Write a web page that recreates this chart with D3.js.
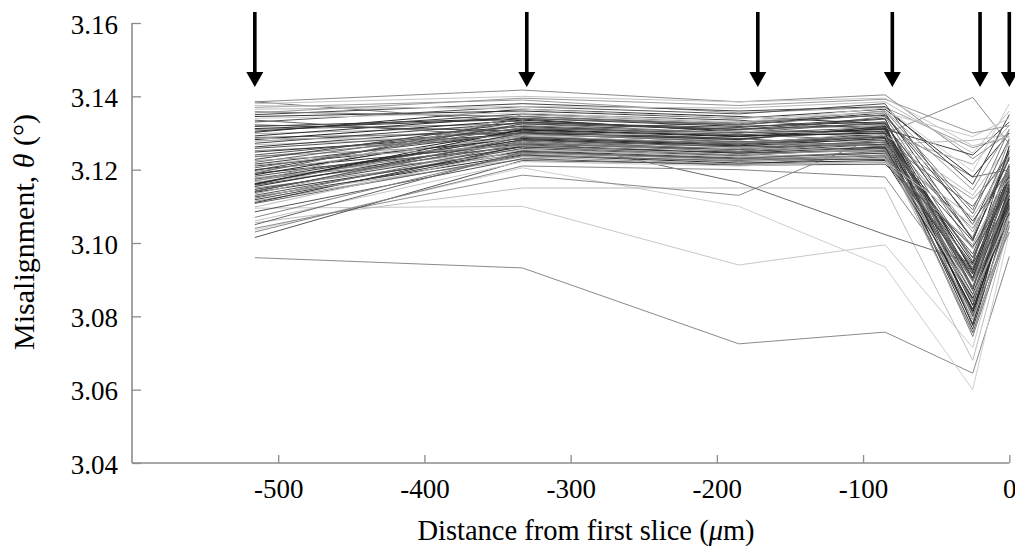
<!DOCTYPE html>
<html>
<head>
<meta charset="utf-8">
<script src="https://cdn.jsdelivr.net/npm/d3@7"></script>
<style>
  html, body { margin: 0; padding: 0; background: #fff; }
  svg { display: block; }
  text { font-family: "Liberation Serif", "Times New Roman", serif; fill: #000; }
</style>
</head>
<body>
<svg id="chart" width="1015" height="558"></svg>
<script>
// ---- data ----
const slicePositions = [-516, -333, -185, -85, -25, 0];
const arrowPositions = [-516, -330, -172, -80, -20, 0];
const xTicks = [-500, -400, -300, -200, -100, 0];
const yTicks = [3.04, 3.06, 3.08, 3.10, 3.12, 3.14, 3.16];

const seriesValues = [
  [3.0960, 3.0932, 3.0725, 3.0757, 3.0645, 3.0963],
  [3.1095, 3.1100, 3.0940, 3.0995, 3.0715, 3.1080],
  [3.1035, 3.1205, 3.1100, 3.0935, 3.0600, 3.1030],
  [3.1055, 3.1150, 3.1150, 3.1150, 3.0680, 3.1050],
  [3.1040, 3.1185, 3.1130, 3.1298, 3.1397, 3.1270],
  [3.1160, 3.1295, 3.1165, 3.1023, 3.0945, 3.1120],
  [3.1385, 3.1417, 3.1385, 3.1404, 3.1230, 3.1300],
  [3.1385, 3.1330, 3.1310, 3.1320, 3.1180, 3.1200],
  [3.1370, 3.1390, 3.1355, 3.1370, 3.1260, 3.1290],
  [3.1015, 3.1225, 3.1215, 3.1235, 3.0920, 3.1100],
  [3.1030, 3.1210, 3.1200, 3.1180, 3.0850, 3.1060],
  [3.1345, 3.1360, 3.1340, 3.1365, 3.1180, 3.1300],
  [3.1330, 3.1372, 3.1352, 3.1380, 3.1050, 3.1255],
  [3.1318, 3.1340, 3.1318, 3.1330, 3.0920, 3.1210],
  [3.1310, 3.1325, 3.1300, 3.1345, 3.0985, 3.1175],
  [3.1305, 3.1352, 3.1335, 3.1310, 3.1240, 3.1330],
  [3.1298, 3.1318, 3.1290, 3.1300, 3.0860, 3.1140],
  [3.1292, 3.1345, 3.1322, 3.1355, 3.1010, 3.1235],
  [3.1288, 3.1300, 3.1282, 3.1320, 3.0880, 3.1180],
  [3.1282, 3.1335, 3.1305, 3.1290, 3.0945, 3.1265],
  [3.1278, 3.1310, 3.1272, 3.1280, 3.1120, 3.1225],
  [3.1272, 3.1328, 3.1315, 3.1340, 3.0830, 3.1150],
  [3.1268, 3.1292, 3.1260, 3.1270, 3.1280, 3.1295],
  [3.1262, 3.1318, 3.1295, 3.1310, 3.0905, 3.1195],
  [3.1258, 3.1305, 3.1285, 3.1262, 3.0790, 3.1120],
  [3.1252, 3.1285, 3.1250, 3.1300, 3.1015, 3.1280],
  [3.1248, 3.1298, 3.1276, 3.1288, 3.0960, 3.1160],
  [3.1335, 3.1290, 3.1265, 3.1275, 3.1100, 3.1245],
  [3.1322, 3.1305, 3.1330, 3.1348, 3.1060, 3.1200],
  [3.1302, 3.1365, 3.1345, 3.1325, 3.0775, 3.1130],
  [3.1285, 3.1282, 3.1310, 3.1295, 3.1215, 3.1320],
  [3.1240, 3.1312, 3.1300, 3.1315, 3.0870, 3.1185],
  [3.1236, 3.1272, 3.1258, 3.1250, 3.0935, 3.1090],
  [3.1350, 3.1380, 3.1360, 3.1372, 3.1160, 3.1350],
  [3.1358, 3.1345, 3.1325, 3.1360, 3.1090, 3.1310],
  [3.1312, 3.1338, 3.1302, 3.1305, 3.0840, 3.1100],
  [3.1215, 3.1302, 3.1285, 3.1305, 3.0900, 3.1170],
  [3.1210, 3.1285, 3.1268, 3.1290, 3.0815, 3.1145],
  [3.1205, 3.1315, 3.1295, 3.1280, 3.0960, 3.1210],
  [3.1200, 3.1270, 3.1255, 3.1275, 3.0780, 3.1080],
  [3.1195, 3.1295, 3.1280, 3.1322, 3.1030, 3.1240],
  [3.1190, 3.1262, 3.1240, 3.1258, 3.0860, 3.1125],
  [3.1186, 3.1308, 3.1290, 3.1312, 3.0925, 3.1190],
  [3.1182, 3.1280, 3.1262, 3.1268, 3.0755, 3.1060],
  [3.1178, 3.1255, 3.1236, 3.1245, 3.1070, 3.1230],
  [3.1174, 3.1290, 3.1272, 3.1298, 3.0830, 3.1155],
  [3.1170, 3.1275, 3.1250, 3.1262, 3.0895, 3.1115],
  [3.1166, 3.1248, 3.1228, 3.1240, 3.0985, 3.1200],
  [3.1162, 3.1300, 3.1282, 3.1318, 3.0800, 3.1140],
  [3.1158, 3.1268, 3.1245, 3.1252, 3.0940, 3.1165],
  [3.1154, 3.1282, 3.1265, 3.1285, 3.0765, 3.1095],
  [3.1150, 3.1242, 3.1222, 3.1232, 3.0880, 3.1135],
  [3.1146, 3.1262, 3.1248, 3.1270, 3.1005, 3.1250],
  [3.1142, 3.1278, 3.1255, 3.1280, 3.0845, 3.1105],
  [3.1138, 3.1250, 3.1230, 3.1228, 3.0915, 3.1180],
  [3.1134, 3.1292, 3.1270, 3.1302, 3.0790, 3.1070],
  [3.1130, 3.1258, 3.1238, 3.1260, 3.0970, 3.1215],
  [3.1126, 3.1240, 3.1218, 3.1225, 3.0850, 3.1120],
  [3.1122, 3.1272, 3.1250, 3.1275, 3.0745, 3.1045],
  [3.1118, 3.1252, 3.1232, 3.1245, 3.0905, 3.1160],
  [3.1114, 3.1235, 3.1215, 3.1220, 3.0995, 3.1190],
  [3.1110, 3.1265, 3.1245, 3.1262, 3.0820, 3.1085],
  [3.1220, 3.1320, 3.1300, 3.1330, 3.0950, 3.1200],
  [3.1212, 3.1288, 3.1305, 3.1295, 3.1130, 3.1270],
  [3.1198, 3.1325, 3.1310, 3.1338, 3.0875, 3.1150],
  [3.1176, 3.1245, 3.1275, 3.1265, 3.1040, 3.1205],
  [3.1160, 3.1310, 3.1292, 3.1300, 3.0810, 3.1110],
  [3.1140, 3.1288, 3.1270, 3.1290, 3.0930, 3.1185],
  [3.1128, 3.1228, 3.1260, 3.1248, 3.0760, 3.1055],
  [3.1190, 3.1340, 3.1322, 3.1350, 3.1080, 3.1285],
  [3.1168, 3.1350, 3.1328, 3.1360, 3.1145, 3.1310],
  [3.1235, 3.1298, 3.1275, 3.1292, 3.0895, 3.1170],
  [3.1228, 3.1330, 3.1310, 3.1325, 3.1010, 3.1230],
  [3.1225, 3.1265, 3.1240, 3.1255, 3.0840, 3.1090],
  [3.1108, 3.1238, 3.1225, 3.1238, 3.0920, 3.1130],
  [3.1098, 3.1255, 3.1235, 3.1230, 3.0855, 3.1075],
  [3.1085, 3.1230, 3.1212, 3.1215, 3.0990, 3.1140],
  [3.1070, 3.1245, 3.1228, 3.1240, 3.0805, 3.1030],
  [3.1060, 3.1222, 3.1210, 3.1222, 3.1050, 3.1175],
  [3.1050, 3.1248, 3.1230, 3.1250, 3.0880, 3.1100],
  [3.1375, 3.1365, 3.1340, 3.1355, 3.1290, 3.1340],
  [3.1365, 3.1372, 3.1368, 3.1385, 3.1245, 3.1360],
  [3.1340, 3.1355, 3.1330, 3.1368, 3.1195, 3.1380],
  [3.1355, 3.1395, 3.1375, 3.1392, 3.1300, 3.1320],
  [3.1380, 3.1400, 3.1385, 3.1395, 3.1265, 3.1290]
];

// ---- styles (one gray per series) ----
const lineGrays = [
  "#8a8a8a","#c8c8c8","#cfcfcf","#bdbdbd","#8c8c8c","#6a6a6a","#8a8a8a","#777777","#999999","#555555","#888888",
  "#333333","#555555","#2a2a2a","#777777","#444444","#aaaaaa","#333333","#666666","#222222","#999999","#444444","#bbbbbb","#3a3a3a","#555555","#888888","#333333","#666666","#444444","#2e2e2e","#aaaaaa","#555555","#999999","#444444","#777777","#333333",
  "#444444","#2a2a2a","#666666","#333333","#999999","#444444","#222222","#555555","#aaaaaa","#3a3a3a","#777777","#bbbbbb","#333333","#555555","#2e2e2e","#888888","#444444","#666666","#333333","#aaaaaa","#555555","#2a2a2a","#777777","#444444","#999999","#333333","#666666","#bbbbbb","#444444","#888888","#222222","#555555","#aaaaaa","#666666","#999999",
  "#777777","#444444","#999999","#666666","#bbbbbb","#555555","#888888","#c4c4c4","#666666",
  "#c8c8c8","#bbbbbb","#cccccc","#999999","#c4c4c4"
];

// ---- drawing ----
const svg = d3.select("#chart");
const x = d3.scaleLinear().domain([-600, 0]).range([132, 1009.3]);
const y = d3.scaleLinear().domain([3.04, 3.16]).range([463, 23]);
const axisColor = "#8c8c8c";

// lines
const lineGen = d3.line().x((d, i) => x(slicePositions[i])).y(d => y(d));
svg.append("g").selectAll("path")
  .data(seriesValues)
  .join("path")
  .attr("d", d => lineGen(d))
  .attr("fill", "none")
  .attr("stroke", (d, i) => lineGrays[i])
  .attr("stroke-width", 1)
  .attr("stroke-linejoin", "miter");

// axes
const xAxis = d3.axisBottom(x).tickValues(xTicks).tickSizeInner(-8).tickSizeOuter(0).tickPadding(20)
  .tickFormat(d => String(d));
const gx = svg.append("g").attr("transform", `translate(0,463)`).call(xAxis);
const yAxis = d3.axisLeft(y).tickValues(yTicks).tickSizeInner(-9).tickSizeOuter(0).tickPadding(14)
  .tickFormat(d => d.toFixed(2));
const gy = svg.append("g").attr("transform", `translate(132,0)`).call(yAxis);

[gx, gy].forEach(g => {
  g.select(".domain").attr("stroke", axisColor).attr("stroke-width", 1.6);
  g.selectAll(".tick line").attr("stroke", axisColor).attr("stroke-width", 1.3);
  g.selectAll(".tick text").attr("font-family", "Liberation Serif, serif").attr("font-size", 27).attr("fill", "#000");
});
gx.selectAll(".tick text").attr("dy", 0).attr("y", 35);
gy.selectAll(".tick text").attr("dy", 10);
gy.select(".domain").attr("d", `M0,${y(3.16)}V${y(3.04)}`);
gx.select(".domain").attr("d", `M${x(-600)},0H${x(0)}`);

// axis titles
const xt = svg.append("text")
  .attr("x", 586).attr("y", 540)
  .attr("text-anchor", "middle").attr("font-size", 28.5);
xt.append("tspan").text("Distance from first slice (");
xt.append("tspan").attr("font-style", "italic").text("μ");
xt.append("tspan").text("m)");

const yt = svg.append("text")
  .attr("transform", `translate(34,${232}) rotate(-90)`)
  .attr("text-anchor", "middle").attr("font-size", 30);
yt.append("tspan").text("Misalignment, ");
yt.append("tspan").attr("font-style", "italic").text("θ");
yt.append("tspan").text(" (°)");

// arrows
const arrows = svg.append("g");
arrowPositions.forEach(p => {
  const cx = x(p);
  arrows.append("rect").attr("x", cx - 1.8).attr("y", 12).attr("width", 3.6).attr("height", 62).attr("fill", "#000");
  arrows.append("path").attr("d", `M${cx - 8.5},72L${cx + 8.5},72L${cx},87Z`).attr("fill", "#000");
});
</script>
</body>
</html>
